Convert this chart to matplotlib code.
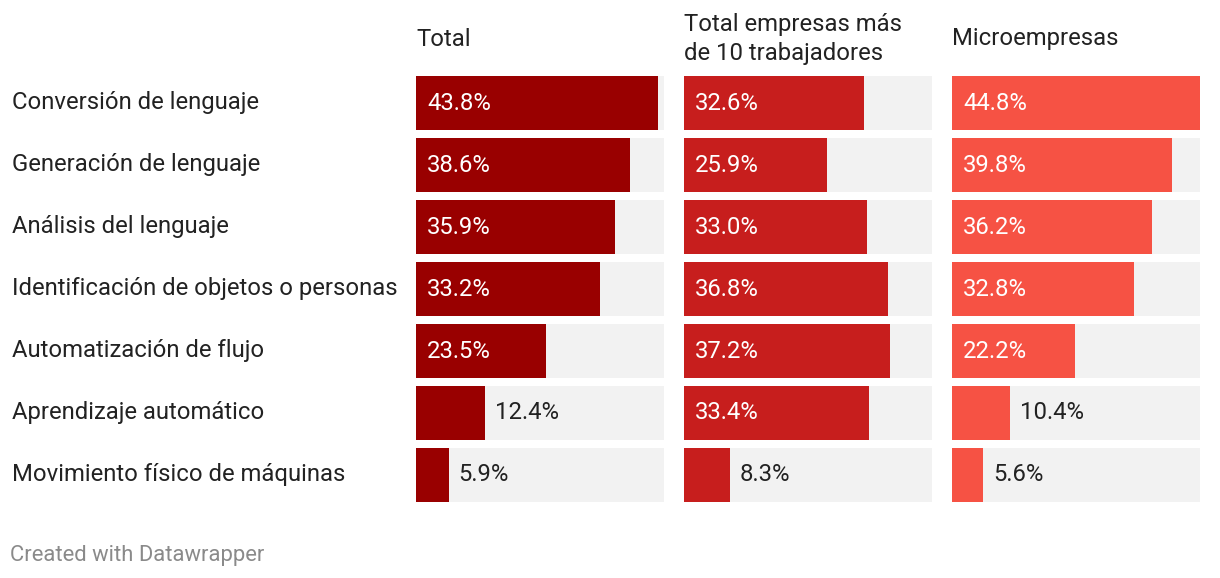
import matplotlib.pyplot as plt
import numpy as np

plt.rcParams['font.family'] = ['Roboto', 'DejaVu Sans']

# datos
categorias = ['Conversión de lenguaje', 'Generación de lenguaje', 'Análisis del lenguaje',
              'Identificación de objetos o personas', 'Automatización de flujo',
              'Aprendizaje automático', 'Movimiento físico de máquinas']
titulos = ['Total', 'Total empresas más\nde 10 trabajadores', 'Microempresas']
total = [43.8, 38.6, 35.9, 33.2, 23.5, 12.4, 5.9]
mas_10 = [32.6, 25.9, 33.0, 36.8, 37.2, 33.4, 8.3]
micro = [44.8, 39.8, 36.2, 32.8, 22.2, 10.4, 5.6]
series = [total, mas_10, micro]
colores = ['#990000', '#c71e1d', '#f65244']

W, H = 1220, 578
fig = plt.figure(figsize=(W / 100, H / 100), dpi=100)
fig.patch.set_facecolor('white')

vmax = max(max(s) for s in series)
bar_h = 54 / 62
y = np.arange(len(categorias))
lefts = [416, 684, 952]
fs = 17.2

for i, (vals, titulo, color) in enumerate(zip(series, titulos, colores)):
    ax = fig.add_axes([lefts[i] / W, 1 - 502 / H, 248 / W, 426 / H])
    ax.barh(y, [vmax] * len(y), height=bar_h, color='#f2f2f2')
    ax.barh(y, vals, height=bar_h, color=color)
    ax.set_xlim(0, vmax)
    ax.set_ylim(len(y) - 1 + bar_h / 2, -bar_h / 2)
    ax.axis('off')
    for yi, v in zip(y, vals):
        txt = f'{v:.1f}%'
        # etiqueta dentro si cabe, fuera si no
        if v / vmax * 248 > 80:
            ax.text(11 / 248 * vmax, yi, txt, color='white', va='center', ha='left', fontsize=fs)
        else:
            ax.text(v + 10 / 248 * vmax, yi, txt, color='#222222', va='center', ha='left', fontsize=fs)
    fig.text(lefts[i] / W, 1 - 39 / H, titulo, ha='left', va='center', fontsize=fs,
             color='#222222', linespacing=1.3)

for yi, cat in zip(y, categorias):
    fig.text(12 / W, 1 - (103 + 62 * yi) / H, cat, ha='left', va='center', fontsize=fs, color='#222222')

fig.text(10 / W, 1 - 555 / H, 'Created with Datawrapper', ha='left', va='center',
         fontsize=15.8, color='#8a8a8a')

plt.savefig('out.png', dpi=100)
